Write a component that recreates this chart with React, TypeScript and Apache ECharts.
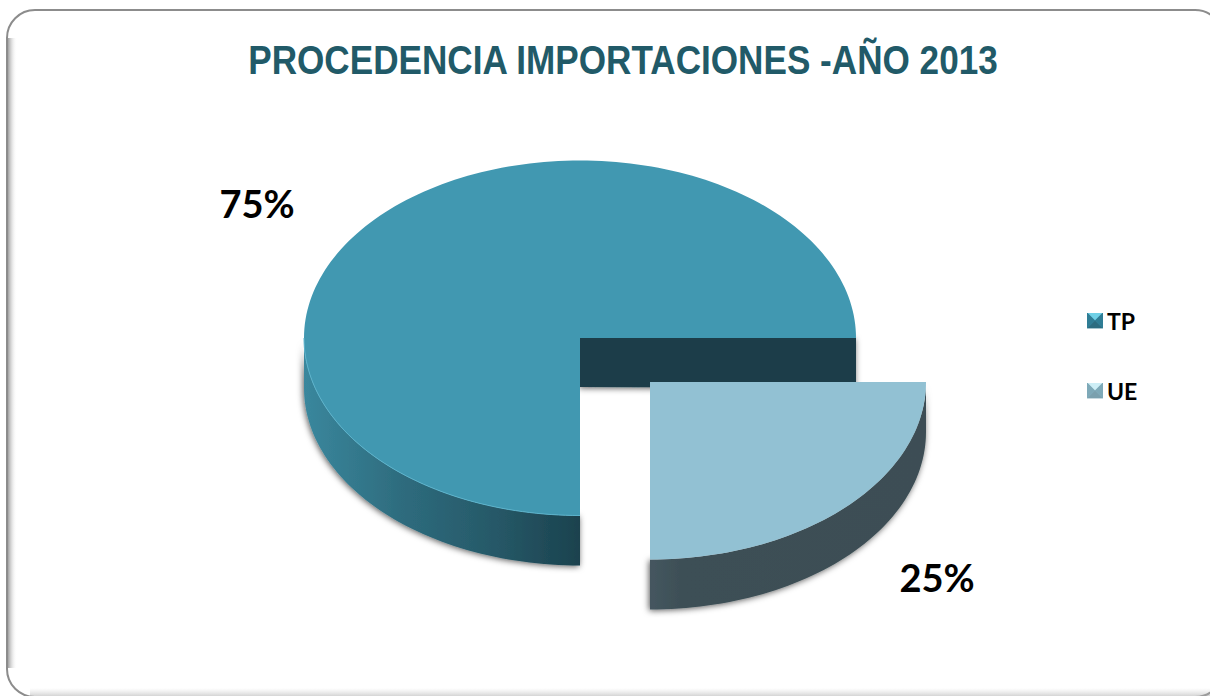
import React, { useEffect, useRef } from "react";
import * as echarts from "echarts";

const titleText = "PROCEDENCIA IMPORTACIONES -AÑO 2013";
const categories = ["TP", "UE"];
const shares = [75, 25];

const topColors = ["#4198b1", "#92c1d3"];
const legendIcon = (base: string, light: string, dark: string, tip: string) =>
  "image://data:image/svg+xml;utf8," +
  encodeURIComponent(
    `<svg xmlns="http://www.w3.org/2000/svg" width="16" height="16"><rect width="16" height="16" fill="${base}"/><polygon points="0,0 16,0 8,8" fill="${tip}"/><polygon points="0,16 16,16 8,8" fill="${dark}"/><polygon points="0,0 8,8 0,16" fill="${light}"/><polygon points="16,0 8,8 16,16" fill="${light}"/></svg>`
  );

const total = shares.reduce((a, b) => a + b, 0);
const RX = 276;
const RY = 177.5;
const DEPTH = 50;
const FIRST_ANGLE = 180;
const geometry = [
  { cx: 580, cy: 338, labelX: 257, labelY: 203 },
  { cx: 650, cy: 382, labelX: 937, labelY: 577 },
];

function arc(cx: number, cy: number, from: number, to: number, dy = 0) {
  const pts: number[][] = [];
  const n = Math.max(8, Math.ceil(Math.abs(to - from) / 1.5));
  for (let i = 0; i <= n; i++) {
    const a = ((from + ((to - from) * i) / n) * Math.PI) / 180;
    pts.push([cx + RX * Math.sin(a), cy - RY * Math.cos(a) + dy]);
  }
  return pts;
}

function sliceRange(idx: number) {
  let start = FIRST_ANGLE;
  for (let i = 0; i < idx; i++) start += (shares[i] / total) * 360;
  return [start, start + (shares[idx] / total) * 360];
}

const shadow = {
  shadowBlur: 6,
  shadowColor: "rgba(0,0,0,0.65)",
  shadowOffsetX: -1,
  shadowOffsetY: 1,
};

function hGrad(stops: [number, string][]) {
  return new echarts.graphic.LinearGradient(
    0,
    0,
    1,
    0,
    stops.map(([offset, color]) => ({ offset, color }))
  );
}

function sliceRenderer(idx: number) {
  return (_params: any, api: any) => {
    const [from, to] = sliceRange(idx);
    const { cx, cy, labelX, labelY } = geometry[idx];
    const pct = Math.round((api.value(0) / total) * 100) + "%";
    const children: any[] = [];
    if (idx === 0) {
      const top = arc(cx, cy, from, 270);
      const bottom = arc(cx, cy, from, 270, DEPTH).reverse();
      children.push({
        type: "polygon",
        shape: { points: top.concat(bottom) },
        style: {
          fill: hGrad([
            [0, "#3a879d"],
            [0.35, "#2e6c7e"],
            [0.7, "#265867"],
            [1, "#1b424e"],
          ]),
          ...shadow,
        },
      });
      children.push({
        type: "polygon",
        shape: {
          points: [
            [cx, cy - 1],
            [cx + RX, cy],
            [cx + RX, cy + DEPTH],
            [cx, cy + DEPTH - 1],
          ],
        },
        style: { fill: "#1a3d4a", ...shadow },
      });
    } else {
      const top = arc(cx, cy, from, to);
      const bottom = arc(cx, cy, from, to, DEPTH).reverse();
      children.push({
        type: "polygon",
        shape: { points: top.concat(bottom) },
        style: {
          fill: hGrad([
            [0, "#45565f"],
            [0.12, "#3d4f56"],
            [1, "#3c4e54"],
          ]),
          ...shadow,
        },
      });
    }
    children.push({
      type: "polygon",
      shape: { points: [[cx, cy]].concat(arc(cx, cy, from, to)) },
      style: { fill: topColors[idx] },
    });
    if (idx === 0) {
      children.push({
        type: "polyline",
        shape: { points: arc(cx, cy, from, 270) },
        style: { fill: "none", stroke: "#5bb3cc", lineWidth: 1 },
      });
    }
    children.push({
      type: "text",
      x: labelX,
      y: labelY,
      style: {
        text: pct,
        fill: "#000",
        font: "bold 38px Lato, 'Open Sans', sans-serif",
        align: "center",
        verticalAlign: "middle",
      },
    });
    return { type: "group", children };
  };
}

export default function App() {
  const ref = useRef<HTMLDivElement>(null);
  useEffect(() => {
    document.body.style.margin = "0";
    const chart = echarts.init(ref.current!, undefined, { renderer: "svg" });
    chart.setOption({
      animation: false,
      backgroundColor: "#ffffff",
      legend: {
        orient: "vertical",
        left: 1082,
        top: 304,
        itemWidth: 16,
        itemHeight: 16,
        itemGap: 47,
        data: [
          { name: categories[0], icon: legendIcon("#3e8ba3", "#2f7d95", "#2c6c80", "#6fd0e6") },
          { name: categories[1], icon: legendIcon("#8cb7c6", "#7ea9b8", "#7aa0ae", "#cdeef6") },
        ],
        textStyle: {
          fontFamily: "Lato, 'Open Sans', sans-serif",
          fontWeight: "bold",
          fontSize: 23,
          color: "#000",
          padding: [0, 0, 0, -1],
        },
      },
      graphic: [
        {
          type: "rect",
          z: -10,
          silent: true,
          shape: { x: 7, y: 10, width: 1216, height: 687, r: 28 },
          style: { fill: "#ffffff", stroke: "#8c8c8c", lineWidth: 2 },
        },
        {
          type: "rect",
          z: -9,
          silent: true,
          shape: { x: 8, y: 38, width: 9, height: 630 },
          style: {
            fill: new echarts.graphic.LinearGradient(0, 0, 1, 0, [
              { offset: 0, color: "rgba(130,130,130,0.75)" },
              { offset: 1, color: "rgba(255,255,255,0)" },
            ]),
          },
        },
        {
          type: "rect",
          z: -9,
          silent: true,
          shape: { x: 30, y: 688, width: 1180, height: 8 },
          style: {
            fill: new echarts.graphic.LinearGradient(0, 0, 0, 1, [
              { offset: 0, color: "rgba(200,200,200,0)" },
              { offset: 1, color: "rgba(170,170,170,0.5)" },
            ]),
          },
        },
        {
          type: "text",
          x: 623,
          y: 60,
          scaleX: 0.857,
          z: 5,
          style: {
            text: titleText,
            fill: "#215a68",
            font: "bold 41px 'Liberation Sans', Arial, sans-serif",
            align: "center",
            verticalAlign: "middle",
          },
        },
      ],
      series: categories.map((name, idx) => ({
        type: "custom",
        name,
        coordinateSystem: "none",
        itemStyle: { color: topColors[idx] },
        renderItem: sliceRenderer(idx),
        data: [[shares[idx]]],
        z: 2 + idx,
      })),
    });
    return () => chart.dispose();
  }, []);
  return <div ref={ref} style={{ width: 1210, height: 696 }} />;
}
